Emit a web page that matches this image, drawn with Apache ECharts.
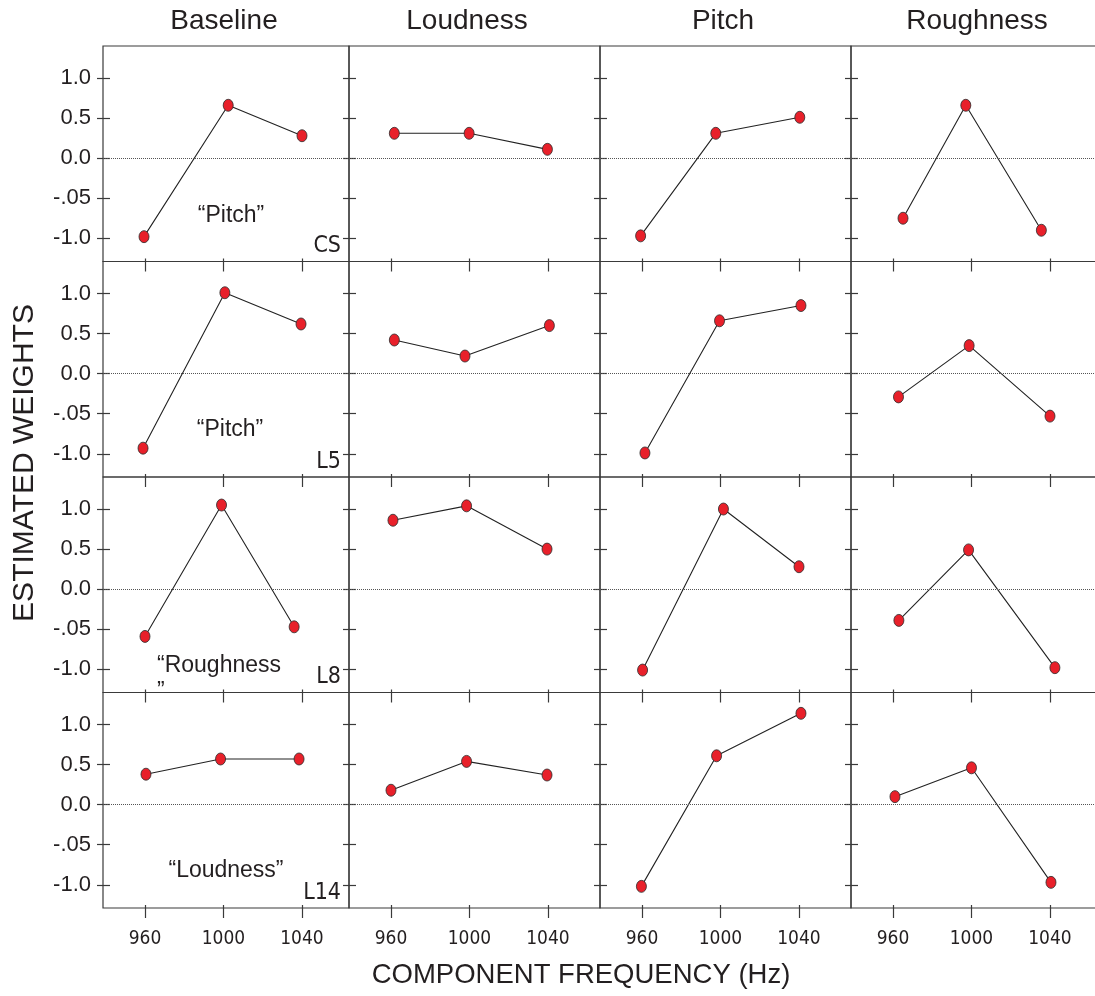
<!DOCTYPE html>
<html>
<head>
<meta charset="utf-8">
<title>Estimated weights by component frequency</title>
<script src="https://cdn.jsdelivr.net/npm/echarts@6/dist/echarts.min.js"></script>
<style>
  html, body { margin: 0; padding: 0; background: #ffffff; }
  #chart { width: 1095px; height: 996px; }
</style>
</head>
<body>
<div id="chart"></div>
<script>
// Conditions (columns) and listeners (rows)
const conditions = ['Baseline', 'Loudness', 'Pitch', 'Roughness'];
const listeners = ['CS', 'L5', 'L8', 'L14'];
const listenerNotes = ['\u201cPitch\u201d', '\u201cPitch\u201d', '\u201cRoughness\n\u201d', '\u201cLoudness\u201d'];

// Axis ticks
const freqTicks = [960, 1000, 1040];
const weightTicks = [-1, -0.5, 0, 0.5, 1];
const weightTickLabels = ['-1.0', '-.05', '0.0', '0.5', '1.0'];

// Estimated weights: [component frequency (Hz), weight]
const csBaseline = [[959.5, -0.98], [1002.4, 0.66], [1040, 0.28]];
const csLoudness = [[961.7, 0.31], [999.8, 0.31], [1039.7, 0.11]];
const csPitch = [[959.3, -0.97], [997.6, 0.31], [1040.4, 0.51]];
const csRoughness = [[965.1, -0.75], [997.1, 0.66], [1035.6, -0.90]];

const l5Baseline = [[959, -0.93], [1000.7, 1.01], [1039.5, 0.62]];
const l5Loudness = [[961.7, 0.42], [997.7, 0.22], [1040.7, 0.60]];
const l5Pitch = [[961.5, -0.99], [999.5, 0.66], [1041, 0.85]];
const l5Roughness = [[962.8, -0.29], [998.8, 0.35], [1040, -0.53]];

const l8Baseline = [[960, -0.59], [999, 1.05], [1036, -0.47]];
const l8Loudness = [[961, 0.86], [998.5, 1.04], [1039.5, 0.50]];
const l8Pitch = [[960.3, -1.01], [1001.5, 1.00], [1040, 0.28]];
const l8Roughness = [[963, -0.39], [998.5, 0.49], [1042.5, -0.98]];

const l14Baseline = [[960.5, 0.38], [998.5, 0.57], [1038.5, 0.57]];
const l14Loudness = [[960, 0.18], [998.5, 0.54], [1039.5, 0.37]];
const l14Pitch = [[959.7, -1.02], [998, 0.61], [1041, 1.14]];
const l14Roughness = [[961, 0.10], [1000, 0.46], [1040.5, -0.97]];

const panelData = [
  [csBaseline, csLoudness, csPitch, csRoughness],
  [l5Baseline, l5Loudness, l5Pitch, l5Roughness],
  [l8Baseline, l8Loudness, l8Pitch, l8Roughness],
  [l14Baseline, l14Loudness, l14Pitch, l14Roughness]
];

// Panel layout (pixels)
const colLeft = [103, 349, 600, 851];
const colWidth = [246, 251, 251, 251];
const rowTop = [46, 261.5, 477, 692.5];
const rowHeight = 215.5;
const xMin = 938.6;
const pxPerHz = 1.9625;
const yMin = -1.29;
const yMax = 1.40;

const ink = '#231f20';
const frame = '#3a3a3a';
const font = "'Liberation Sans', Arial, Helvetica, sans-serif";
const narrowFont = "'Liberation Sans Narrow', 'Arial Narrow', 'DejaVu Sans Condensed', sans-serif";

const grids = [], xAxes = [], yAxes = [], series = [];

for (let r = 0; r < 4; r++) {
  for (let c = 0; c < 4; c++) {
    const g = grids.length;
    grids.push({
      left: colLeft[c], top: rowTop[r], width: colWidth[c], height: rowHeight,
      containLabel: false, outerBoundsMode: 'none',
      show: true, borderColor: frame, borderWidth: 1.2, backgroundColor: 'transparent'
    });
    const xMax = xMin + colWidth[c] / pxPerHz;
    // bottom axis: outward ticks and (bottom row) frequency labels
    xAxes.push({
      type: 'value', gridIndex: g, position: 'bottom', min: xMin, max: xMax,
      axisLine: { show: false, onZero: false },
      splitLine: { show: false },
      axisTick: { show: true, inside: false, length: 10, customValues: freqTicks,
                  lineStyle: { color: frame, width: 1.2 } },
      axisLabel: { show: r === 3, customValues: freqTicks, margin: 22,
                   fontFamily: narrowFont, fontSize: 19, color: ink,
                   formatter: v => String(v) }
    });
    // short inward stubs of the same ticks
    xAxes.push({
      type: 'value', gridIndex: g, position: 'bottom', min: xMin, max: xMax,
      axisLine: { show: false, onZero: false }, splitLine: { show: false },
      axisTick: { show: true, inside: true, length: 3, customValues: freqTicks,
                  lineStyle: { color: frame, width: 1.2 } },
      axisLabel: { show: false }
    });
    // left axis: outward ticks and (first column) weight labels
    yAxes.push({
      type: 'value', gridIndex: g, position: 'left', min: yMin, max: yMax,
      axisLine: { show: false, onZero: false }, splitLine: { show: false },
      axisTick: { show: true, inside: false, length: 6, customValues: weightTicks,
                  lineStyle: { color: frame, width: 1.2 } },
      axisLabel: { show: c === 0, customValues: weightTicks, margin: 12,
                   fontFamily: font, fontSize: 22, color: ink,
                   formatter: v => weightTickLabels[weightTicks.indexOf(v)] }
    });
    yAxes.push({
      type: 'value', gridIndex: g, position: 'left', min: yMin, max: yMax,
      axisLine: { show: false, onZero: false }, splitLine: { show: false },
      axisTick: { show: true, inside: true, length: 7, customValues: weightTicks,
                  lineStyle: { color: frame, width: 1.2 } },
      axisLabel: { show: false }
    });
    series.push({
      type: 'line',
      name: listeners[r] + ' ' + conditions[c],
      xAxisIndex: 2 * g, yAxisIndex: 2 * g,
      data: panelData[r][c],
      symbol: 'circle', symbolSize: [10, 12],
      itemStyle: { color: '#e8202a', borderColor: '#2a2a2a', borderWidth: 0.8 },
      lineStyle: { color: '#222222', width: 1.1 },
      animation: false, silent: true,
      markLine: {
        silent: true, symbol: 'none', label: { show: false },
        lineStyle: { color: '#555555', type: 'dotted', width: 1 },
        data: [{ yAxis: 0 }],
        animation: false
      },
      z: 3
    });
  }
}

// Text: column headers, axis titles, listener IDs and perceptual labels
const graphics = [];
conditions.forEach((name, c) => {
  graphics.push({
    type: 'text', x: [224, 467, 723, 977][c], y: 21,
    style: { text: name, font: '28px ' + font, fill: ink, textAlign: 'center', textVerticalAlign: 'middle' }
  });
});
listeners.forEach((id, r) => {
  graphics.push({
    type: 'text', x: 341, y: rowTop[r] + rowHeight - 15,
    style: { text: id, font: '23px ' + narrowFont, fill: ink, textAlign: 'right', textVerticalAlign: 'middle' }
  });
});
const notePos = [[231, 216, 'center'], [230, 430, 'center'], [157, 679, 'left'], [226, 871, 'center']];
listenerNotes.forEach((t, r) => {
  graphics.push({
    type: 'text', x: notePos[r][0], y: notePos[r][1],
    style: { text: t, font: '23px ' + font, fill: ink, textAlign: notePos[r][2],
             textVerticalAlign: 'middle', lineHeight: 26 }
  });
});
graphics.push({
  type: 'text', x: 25, y: 463, rotation: Math.PI / 2,
  style: { text: 'ESTIMATED WEIGHTS', font: '30px ' + font, fill: ink, textAlign: 'center', textVerticalAlign: 'middle' }
});
graphics.push({
  type: 'text', x: 581, y: 975,
  style: { text: 'COMPONENT FREQUENCY (Hz)', font: '27.5px ' + font, fill: ink, textAlign: 'center', textVerticalAlign: 'middle' }
});

const chart = echarts.init(document.getElementById('chart'), null, { renderer: 'canvas' });
chart.setOption({
  backgroundColor: '#ffffff',
  animation: false,
  grid: grids,
  xAxis: xAxes,
  yAxis: yAxes,
  series: series,
  graphic: graphics
});
</script>
</body>
</html>
